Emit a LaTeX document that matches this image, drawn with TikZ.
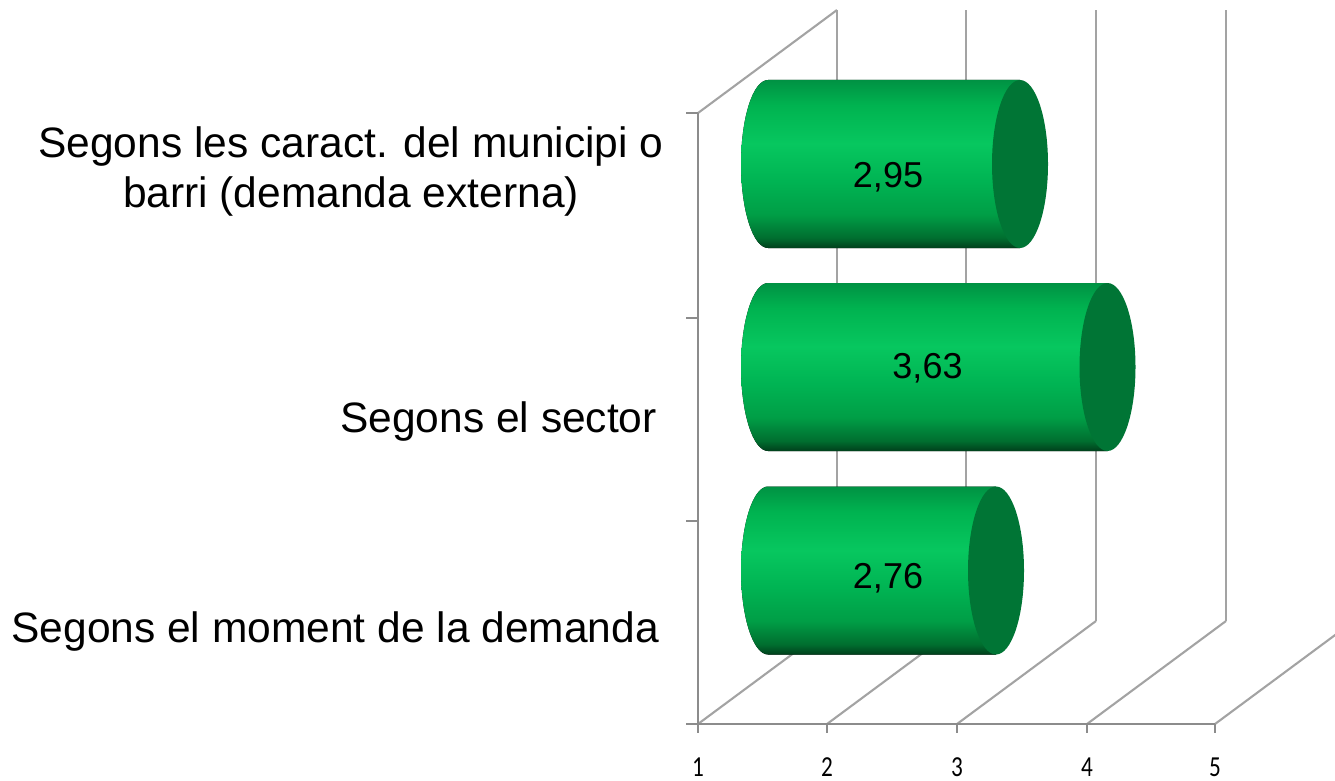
\documentclass[tikz,border=0pt]{standalone}
\usepackage{fontspec}
\setmainfont{Liberation Sans}
\newfontfamily\axisfont{Carlito}
\definecolor{gridgray}{HTML}{A3A3A3}
\definecolor{axisgray}{HTML}{8C8C8C}
\definecolor{capgreen}{HTML}{007535}
\definecolor{gA}{HTML}{003F1B}
\definecolor{gB}{HTML}{006E2F}
\definecolor{gC}{HTML}{009E46}
\definecolor{gD}{HTML}{00B453}
\definecolor{gE}{HTML}{07C75F}
\definecolor{gF}{HTML}{00B350}
\definecolor{gG}{HTML}{009243}
% the bar spans 25bp (bottom) to 75bp (top) of the shading
\pgfdeclareverticalshading{cylbody}{100bp}{color(0bp)=(gA); color(25bp)=(gA); color(28bp)=(gB); color(35bp)=(gC); color(45bp)=(gD); color(56bp)=(gE); color(67.5bp)=(gF); color(75bp)=(gG); color(100bp)=(gG)}
\tikzset{
  gridline/.style={draw=gridgray, line width=2.1pt},
  axisline/.style={draw=axisgray, line width=2.4pt},
  catlabel/.style={font=\fontsize{42.5}{50}\selectfont, inner sep=0pt, align=center},
  vallabel/.style={font=\fontsize{36}{42}\selectfont, inner sep=0pt, anchor=base},
  ticklabel/.style={font=\axisfont\fontsize{29}{32}\selectfont, inner sep=0pt, xscale=0.8, anchor=base},
}
\begin{document}
\begin{tikzpicture}[x=1pt,y=-1pt]
\useasboundingbox (0,0) rectangle (1335,781);
\clip (0,0) rectangle (1335,781);
% front axis positions and back wall positions
\foreach \i/\fx in {1/698,2/827,3/957,4/1087,5/1215} {
  \coordinate (f\i) at (\fx,724);
  \coordinate (b\i) at (\fx+139,621);
  \coordinate (bt\i) at (\fx+139,10);
  \coordinate (tk\i) at (\fx,733);
  \coordinate (tb\i) at (\fx,776);
}
% back wall verticals
\foreach \i in {1,2,3,4} { \draw[gridline] (b\i) -- (bt\i); }
% floor diagonals
\foreach \i in {1,2,3,4,5} { \draw[gridline] (f\i) -- (b\i); }
% left wall
\coordinate (lt) at (698,113);
\draw[gridline] (lt) -- (bt1);
\draw[axisline] (lt) -- (f1);
\foreach \j/\yy in {1/113,2/318,3/521,4/724} {
  \coordinate (ya\j) at (686,\yy);
  \coordinate (yb\j) at (698,\yy);
  \draw[axisline] (ya\j) -- (yb\j);
}
% front axis
\draw[axisline] (ya4) -- (f5);
\foreach \i in {1,2,3,4,5} { \draw[axisline] (f\i) -- (tk\i); }
% tick labels
\foreach \i in {1,2,3,4,5} { \node[ticklabel] (tl\i) at (tb\i) {\i}; }
% cylinders
\foreach \cy/\cx/\n in {164/1020/a, 367/1107.5/b, 570.5/996/c} {
  \coordinate (cap\n) at (\cx,\cy);
  \fill[shading=cylbody] (768,\cy-84) -- (\cx,\cy-84) -- (\cx,\cy+84) -- (768,\cy+84)
     arc[start angle=90, end angle=270, x radius=27, y radius=84] -- cycle;
  \fill[capgreen] (cap\n) ellipse[x radius=28, y radius=84];
}
% value labels
\node[vallabel] (va) at (888,187) {2,95};
\node[vallabel] (vb) at (927.5,378) {3,63};
\node[vallabel] (vc) at (888,588) {2,76};
% category labels
\node[catlabel, anchor=base] (ca) at (351,207) {Segons les caract. del municipi o\\barri (demanda externa)};
\node[catlabel, anchor=base east] (cb) at (657,432) {Segons el sector};
\node[catlabel, anchor=base east] (cc) at (659,642) {Segons el moment de la demanda};
\end{tikzpicture}
\end{document}
